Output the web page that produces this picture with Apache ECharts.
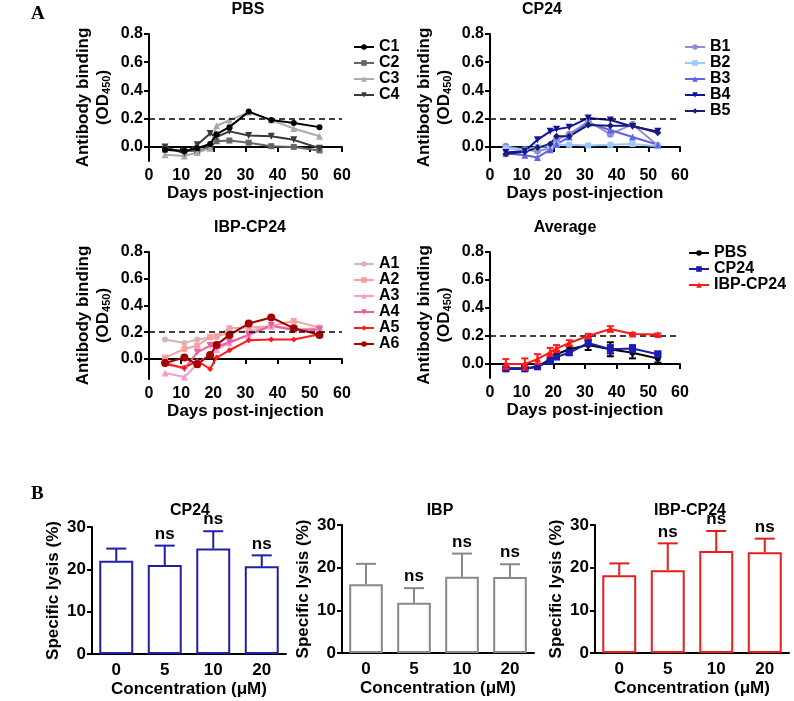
<!DOCTYPE html>
<html><head><meta charset="utf-8">
<script src="https://cdn.jsdelivr.net/npm/echarts@6/dist/echarts.min.js"></script>
<style>html,body{margin:0;padding:0;background:#fff}#c{width:794px;height:701px}</style>
</head><body><div id="c"></div>
<script>
// ---------- DATA ----------
const days = [5, 11, 15, 19, 21, 25, 31, 38, 45, 53];
const C1 = [-0.02, -0.03, -0.01, 0.02, 0.09, 0.14, 0.25, 0.19, 0.17, 0.14];
const C2 = [-0.02, -0.03, -0.03, 0.00, 0.04, 0.045, 0.03, 0.005, 0.00, -0.025];
const C3 = [-0.055, -0.065, -0.04, -0.01, 0.15, 0.19, 0.245, 0.19, 0.13, 0.075];
const C4 = [0.00, -0.045, 0.015, 0.095, 0.07, 0.11, 0.08, 0.075, 0.05, -0.01];
const B1 = [0.005, -0.02, -0.03, -0.01, 0.05, 0.09, 0.18, 0.09, 0.16, 0.01];
const B2 = [-0.01, -0.02, 0.00, 0.005, 0.015, 0.015, 0.01, 0.015, 0.02, 0.005];
const B3 = [-0.045, -0.06, -0.075, -0.02, 0.02, 0.07, 0.17, 0.12, 0.07, 0.015];
const B4 = [-0.04, -0.03, 0.05, 0.11, 0.125, 0.14, 0.205, 0.19, 0.145, 0.11];
const B5 = [-0.05, -0.035, -0.005, 0.02, 0.075, 0.075, 0.155, 0.15, 0.15, 0.10];
const A1 = [0.145, 0.12, 0.145, 0.16, 0.165, 0.20, 0.21, 0.245, 0.23, 0.21];
const A2 = [0.01, 0.075, 0.10, 0.165, 0.17, 0.23, 0.235, 0.245, 0.285, 0.235];
const A3 = [-0.105, -0.135, -0.04, 0.04, 0.07, 0.12, 0.18, 0.245, 0.22, 0.23];
const A4 = [-0.025, -0.075, 0.05, 0.10, 0.09, 0.125, 0.18, 0.25, 0.215, 0.22];
const A5 = [-0.04, -0.065, -0.015, -0.075, 0.01, 0.065, 0.14, 0.145, 0.145, 0.185];
const A6 = [-0.03, 0.01, -0.04, 0.03, 0.105, 0.18, 0.265, 0.31, 0.23, 0.18];
const avgPBS = [-0.03, -0.03, -0.02, 0.035, 0.07, 0.105, 0.135, 0.105, 0.08, 0.04];
const avgPBSErr = [0.01, 0.01, 0.01, 0.02, 0.02, 0.02, 0.035, 0.05, 0.04, 0.03];
const avgCP24 = [-0.035, -0.035, -0.02, 0.02, 0.05, 0.08, 0.15, 0.105, 0.11, 0.07];
const avgCP24Err = [0.01, 0.01, 0.01, 0.015, 0.015, 0.015, 0.02, 0.03, 0.025, 0.02];
const avgIBP = [0.00, 0.00, 0.035, 0.085, 0.11, 0.15, 0.20, 0.25, 0.215, 0.21];
const avgIBPErr = [0.035, 0.04, 0.035, 0.03, 0.025, 0.02, 0.015, 0.02, 0.008, 0.008];
const yTicks = [0, 0.2, 0.4, 0.6, 0.8];
const conc = ['0', '5', '10', '20'];
const lysisCP24 = [22.0, 21.0, 24.9, 20.7];
const lysisCP24Err = [2.9, 4.6, 4.1, 2.6];
const lysisIBP = [16.1, 11.8, 17.9, 17.8];
const lysisIBPErr = [4.8, 3.4, 5.4, 3.0];
const lysisIBPCP24 = [18.2, 19.4, 23.9, 23.6];
const lysisIBPCP24Err = [2.8, 6.3, 4.7, 3.2];
const nsLabels = ['', 'ns', 'ns', 'ns'];

// ---------- STYLE ----------
const FONT = "'Liberation Sans', Arial, sans-serif";
const downTri = 'path://M0,0 L10,0 L5,9 Z';

const chart = echarts.init(document.getElementById('c'), null, {renderer: 'canvas'});

const gridsPos = [
  {left: 149, top: 34, width: 193, height: 127},
  {left: 490, top: 34, width: 190, height: 127},
  {left: 149, top: 252, width: 193, height: 127},
  {left: 490, top: 252, width: 190, height: 126},
  {left: 92, top: 527, width: 194, height: 127},
  {left: 342, top: 525, width: 192, height: 128},
  {left: 595, top: 525, width: 194, height: 128}
];
const grid = gridsPos.map(g => Object.assign({containLabel: false}, g));

const axisLineS = {lineStyle: {color: '#000', width: 2}};
const tickS = {show: true, length: 5, lineStyle: {color: '#000', width: 2}};
const labelS = {color: '#000', fontWeight: 'bold', fontSize: 16, fontFamily: FONT};
const nameS = {color: '#000', fontWeight: 'bold', fontSize: 17, fontFamily: FONT};

const xAxis = [], yAxis = [];
const yMins = [-0.1, -0.1, -0.15, -0.1];
for (let i = 0; i < 4; i++) {
  xAxis.push({
    type: 'value', gridIndex: i, min: 0, max: 60, interval: 10,
    axisLine: axisLineS, axisTick: tickS, splitLine: {show: false},
    axisLabel: Object.assign({margin: 7}, labelS),
    name: 'Days post-injection', nameLocation: 'middle', nameGap: 24,
    nameTextStyle: nameS
  });
  yAxis.push({
    type: 'value', gridIndex: i, min: yMins[i], max: 0.8,
    axisLine: {show: true, lineStyle: {color: '#000', width: 2}},
    axisTick: Object.assign({customValues: yTicks}, tickS),
    splitLine: {show: false},
    axisLabel: Object.assign({customValues: yTicks, margin: 6, formatter: v => v.toFixed(1)}, labelS),
    name: 'Antibody binding\n(OD{sub|450})', nameLocation: 'middle', nameGap: 36,
    nameTextStyle: Object.assign({lineHeight: 20}, nameS, {
      rich: {sub: {fontSize: 11, fontWeight: 'bold', fontFamily: FONT, color: '#000', padding: [8, 0, 0, 0]}}})
  });
}
for (let i = 4; i < 7; i++) {
  xAxis.push({
    type: 'category', gridIndex: i, data: conc,
    axisLine: axisLineS, axisTick: {show: false},
    axisLabel: Object.assign({margin: 8}, labelS, {fontSize: 17}),
    name: 'Concentration (μM)', nameLocation: 'middle', nameGap: 27,
    nameTextStyle: nameS
  });
  yAxis.push({
    type: 'value', gridIndex: i, min: 0, max: 30, interval: 10,
    axisLine: {show: true, lineStyle: {color: '#000', width: 2}},
    axisTick: tickS, splitLine: {show: false},
    axisLabel: Object.assign({margin: 6}, labelS, {fontSize: 17}),
    name: 'Specific lysis (%)', nameLocation: 'middle', nameGap: 30,
    nameTextStyle: nameS
  });
}

function pts(arr) { return days.map((d, i) => [d, arr[i]]); }
function lineSeries(name, arr, gi, color, symbol, size, z) {
  return {
    type: 'line', name, xAxisIndex: gi, yAxisIndex: gi, data: pts(arr),
    symbol, symbolSize: size, showSymbol: true, z: z || 2,
    lineStyle: {color, width: 2}, itemStyle: {color}, emphasis: {disabled: true}, animation: false
  };
}
function refLine(gi) {
  return {
    type: 'line', xAxisIndex: gi, yAxisIndex: gi, data: [], silent: true, animation: false,
    markLine: {symbol: 'none', silent: true, label: {show: false}, animation: false,
      lineStyle: {color: '#000', width: 1.6, type: [6, 4]}, data: [{yAxis: 0.2}]}
  };
}
function errSeries(gi, xs, vals, errs, color, capW, both, labels, z) {
  return {
    type: 'custom', xAxisIndex: gi, yAxisIndex: gi, silent: true, animation: false, z: z || 3,
    data: xs.map((x, i) => [x, vals[i], errs[i]]),
    renderItem: function (params, api) {
      const x = api.value(0), y = api.value(1), e = api.value(2);
      const p = api.coord([x, y]);
      const pt = api.coord([x, y + e]);
      const pb = api.coord([x, both ? y - e : y]);
      const st = {stroke: color, lineWidth: 2};
      const ch = [
        {type: 'line', shape: {x1: p[0], y1: pb[1], x2: p[0], y2: pt[1]}, style: st},
        {type: 'line', shape: {x1: p[0] - capW, y1: pt[1], x2: p[0] + capW, y2: pt[1]}, style: st}
      ];
      if (both) ch.push({type: 'line', shape: {x1: p[0] - capW, y1: pb[1], x2: p[0] + capW, y2: pb[1]}, style: st});
      if (labels && labels[params.dataIndex]) {
        ch.push({type: 'text', style: {text: labels[params.dataIndex], x: p[0], y: pt[1] - 3,
          align: 'center', verticalAlign: 'bottom', font: 'bold 17px ' + FONT, fill: '#000'}});
      }
      return {type: 'group', children: ch};
    }
  };
}
function barSeries(gi, vals, color) {
  return {
    type: 'bar', xAxisIndex: gi, yAxisIndex: gi, data: vals, barWidth: '70%', animation: false,
    itemStyle: {color: '#fff', borderColor: color, borderWidth: 2}, silent: true, z: 2
  };
}

const series = [
  refLine(0), refLine(1), refLine(2), refLine(3),
  lineSeries('C2', C2, 0, '#666666', 'rect', 6),
  lineSeries('C3', C3, 0, '#aaaaaa', 'triangle', 7),
  lineSeries('C4', C4, 0, '#3a3a3a', downTri, 7),
  lineSeries('C1', C1, 0, '#000000', 'circle', 6, 3),
  lineSeries('B1', B1, 1, '#8e8ed2', 'circle', 7),
  lineSeries('B2', B2, 1, '#99c9f5', 'rect', 6),
  lineSeries('B3', B3, 1, '#6262e6', 'triangle', 7),
  lineSeries('B4', B4, 1, '#12129a', downTri, 7),
  lineSeries('B5', B5, 1, '#1c1c78', 'diamond', 7),
  lineSeries('A1', A1, 2, '#d8b3b3', 'circle', 6),
  lineSeries('A2', A2, 2, '#f7a2a2', 'rect', 6),
  lineSeries('A3', A3, 2, '#f59ccb', 'triangle', 7),
  lineSeries('A4', A4, 2, '#ea5fa0', downTri, 7),
  lineSeries('A5', A5, 2, '#ff1a1a', 'diamond', 6),
  lineSeries('A6', A6, 2, '#a30000', 'circle', 8, 3),
  errSeries(3, days, avgPBS, avgPBSErr, '#000', 3.5, true, null, 3),
  lineSeries('PBS', avgPBS, 3, '#000000', 'circle', 6, 4),
  errSeries(3, days, avgCP24, avgCP24Err, '#1a1ab4', 3.5, true, null, 5),
  lineSeries('CP24', avgCP24, 3, '#1a1ab4', 'rect', 7, 6),
  errSeries(3, days, avgIBP, avgIBPErr, '#ff1a1a', 3.5, true, null, 7),
  lineSeries('IBP-CP24', avgIBP, 3, '#ff1a1a', 'triangle', 7, 8),
  barSeries(4, lysisCP24, '#1f1fa6'),
  errSeries(4, [0, 1, 2, 3], lysisCP24, lysisCP24Err, '#1f1fa6', 10, false, nsLabels, 3),
  barSeries(5, lysisIBP, '#888888'),
  errSeries(5, [0, 1, 2, 3], lysisIBP, lysisIBPErr, '#888888', 10, false, nsLabels, 3),
  barSeries(6, lysisIBPCP24, '#e61e1e'),
  errSeries(6, [0, 1, 2, 3], lysisIBPCP24, lysisIBPCP24Err, '#e61e1e', 10, false, nsLabels, 3)
];

const legTxt = {color: '#000', fontSize: 16, fontWeight: 'bold', fontFamily: FONT, lineHeight: 15};
function legend(data, left, top) {
  return {data, left, top, orient: 'vertical', itemWidth: 20, itemHeight: 7, itemGap: 0,
    textStyle: legTxt, selectedMode: false, padding: 0};
}

const titleS = {color: '#000', fontWeight: 'bold', fontSize: 16, fontFamily: FONT};
function ttl(text, x, y) {
  return {text, left: x, top: y, textAlign: 'center', textStyle: titleS, padding: 0};
}

chart.setOption({
  backgroundColor: '#fff',
  animation: false,
  title: [
    ttl('PBS', 248, 2), ttl('CP24', 542, 2), ttl('IBP-CP24', 250, 220), ttl('Average', 565, 220),
    ttl('CP24', 190, 503), ttl('IBP', 440, 503), ttl('IBP-CP24', 690, 503),
    {text: 'A', left: 31, top: 5, padding: 0, textStyle: {color: '#000', fontWeight: 'bold', fontSize: 19, fontFamily: "'Liberation Serif', 'Times New Roman', serif"}},
    {text: 'B', left: 31, top: 485, padding: 0, textStyle: {color: '#000', fontWeight: 'bold', fontSize: 19, fontFamily: "'Liberation Serif', 'Times New Roman', serif"}}
  ],
  legend: [
    legend(['C1', 'C2', 'C3', 'C4'], 353, 39),
    legend(['B1', 'B2', 'B3', 'B4', 'B5'], 684, 39),
    legend(['A1', 'A2', 'A3', 'A4', 'A5', 'A6'], 353, 256),
    legend(['PBS', 'CP24', 'IBP-CP24'], 688, 245)
  ],
  grid, xAxis, yAxis, series
});
</script>
</body></html>
